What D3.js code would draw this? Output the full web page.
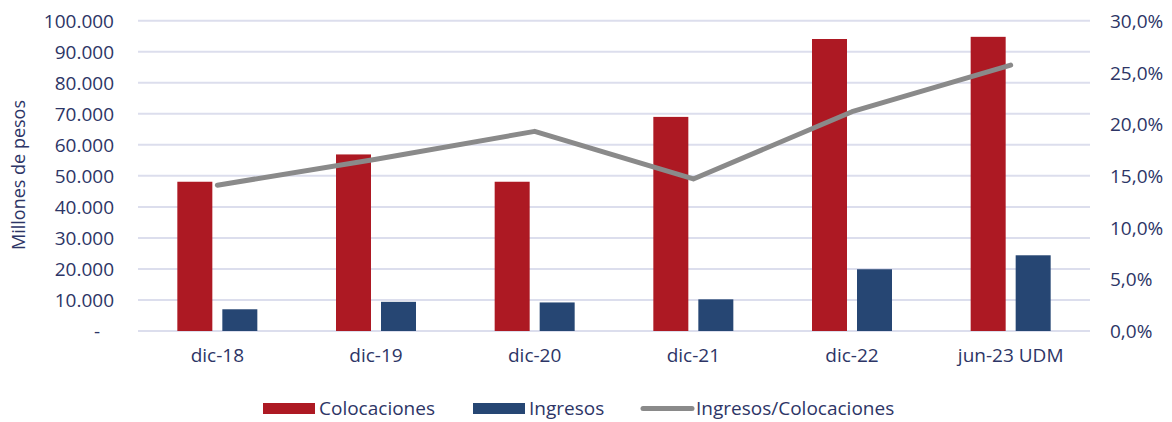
<!doctype html>
<html>
<head>
<meta charset="utf-8">
<style>
  body { margin: 0; background: #fff; }
  svg text { font-family: "Open Sans", sans-serif; fill: #2d3566; }
</style>
</head>
<body>
<svg id="chart" width="1172" height="422"></svg>
<script src="https://cdn.jsdelivr.net/npm/d3@7"></script>
<script>
// chart data
const categories = ["dic-18", "dic-19", "dic-20", "dic-21", "dic-22", "jun-23 UDM"];
const colocaciones = [48100, 56900, 48100, 69000, 94100, 94800];
const ingresos = [7000, 9400, 9200, 10200, 19900, 24400];
const ratio = [0.141, 0.166, 0.193, 0.147, 0.212, 0.257];
const leftTicks = [0, 10000, 20000, 30000, 40000, 50000, 60000, 70000, 80000, 90000, 100000];
const rightTicks = [0, 0.05, 0.10, 0.15, 0.20, 0.25, 0.30];

const red = "#ad1923", blue = "#264673", grey = "#8a8a8a", grid = "#dcdeed";

let margin = { left: 138, right: 82, top: 20.7, bottom: 91 };
let width = 1172 - margin.left - margin.right;
let height = 422 - margin.top - margin.bottom;

let svg = d3.select("#chart")
  .append("g")
  .attr("transform", "translate(" + margin.left + "," + margin.top + ")");

let x = d3.scaleBand().domain(categories).range([0, width]);
let yL = d3.scaleLinear().domain([0, 100000]).range([height, 0]);
let yR = d3.scaleLinear().domain([0, 0.30]).range([height, 0]);

// gridlines
svg.append("g")
  .selectAll("line")
  .data(leftTicks)
  .join("line")
  .attr("x1", 0)
  .attr("x2", width)
  .attr("y1", d => yL(d))
  .attr("y2", d => yL(d))
  .attr("stroke", grid)
  .attr("stroke-width", 2);

// left axis labels
let fmt = d3.formatLocale({ decimal: ",", thousands: ".", grouping: [3], currency: ["$", ""] });
let leftAxis = d3.axisLeft(yL).tickValues(leftTicks).tickSize(0).tickPadding(24)
  .tickFormat(d => d === 0 ? "-" : fmt.format(",")(d));
let gl = svg.append("g").call(leftAxis);
gl.select(".domain").remove();
gl.selectAll("text").style("font-size", "19px").attr("dy", "0.35em");
gl.selectAll("text").filter(d => d === 0).attr("dx", -14);

// right axis labels
let rightAxis = d3.axisRight(yR).tickValues(rightTicks).tickSize(0).tickPadding(20)
  .tickFormat(d => fmt.format(".1f")(d * 100) + "%");
let gr = svg.append("g").attr("transform", "translate(" + width + ",0)").call(rightAxis);
gr.select(".domain").remove();
gr.selectAll("text").style("font-size", "19px").attr("dy", "0.35em");

// category labels
let xAxis = d3.axisBottom(x).tickSize(0).tickPadding(18);
let gx = svg.append("g").attr("transform", "translate(0," + height + ")").call(xAxis);
gx.select(".domain").remove();
gx.selectAll("text").style("font-size", "19px");

// bars
let barW = 35, gap = 10;
svg.append("g")
  .selectAll("rect")
  .data(colocaciones)
  .join("rect")
  .attr("x", (d, i) => x(categories[i]) + x.bandwidth() / 2 - gap / 2 - barW)
  .attr("y", d => yL(d))
  .attr("width", barW)
  .attr("height", d => yL(0) - yL(d))
  .attr("fill", red);

svg.append("g")
  .selectAll("rect")
  .data(ingresos)
  .join("rect")
  .attr("x", (d, i) => x(categories[i]) + x.bandwidth() / 2 + gap / 2)
  .attr("y", d => yL(d))
  .attr("width", barW)
  .attr("height", d => yL(0) - yL(d))
  .attr("fill", blue);

// ratio line
let line = d3.line()
  .x((d, i) => x(categories[i]) + x.bandwidth() / 2)
  .y(d => yR(d));
svg.append("path")
  .datum(ratio)
  .attr("d", line)
  .attr("fill", "none")
  .attr("stroke", grey)
  .attr("stroke-width", 5)
  .attr("stroke-linecap", "round")
  .attr("stroke-linejoin", "round");

// y axis title
d3.select("#chart").append("text")
  .attr("transform", "translate(25,175) rotate(-90)")
  .attr("text-anchor", "middle")
  .style("font-size", "18px")
  .text("Millones de pesos");

// legend
let legend = d3.select("#chart").append("g");
legend.append("rect").attr("x", 263).attr("y", 403).attr("width", 52).attr("height", 11).attr("fill", red);
legend.append("text").attr("x", 319).attr("y", 415).style("font-size", "19px").text("Colocaciones");
legend.append("rect").attr("x", 473).attr("y", 403).attr("width", 52).attr("height", 11).attr("fill", blue);
legend.append("text").attr("x", 529).attr("y", 415).style("font-size", "19px").text("Ingresos");
legend.append("line").attr("x1", 643).attr("x2", 692).attr("y1", 408.5).attr("y2", 408.5)
  .attr("stroke", grey).attr("stroke-width", 5).attr("stroke-linecap", "round");
legend.append("text").attr("x", 696).attr("y", 415).style("font-size", "19px").text("Ingresos/Colocaciones");
</script>
</body>
</html>
